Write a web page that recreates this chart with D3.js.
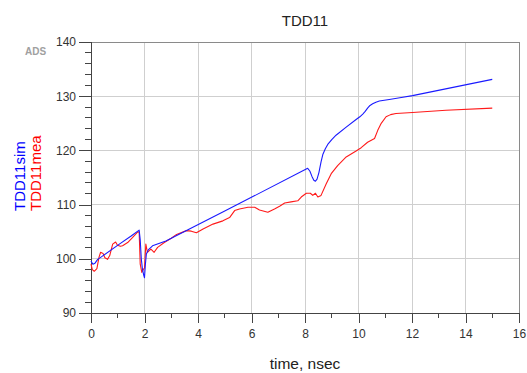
<!DOCTYPE html>
<html>
<head>
<meta charset="utf-8">
<script src="https://cdn.jsdelivr.net/npm/d3@7"></script>
<style>
  html, body { margin: 0; padding: 0; background: #fff; }
  svg { display: block; font-family: "Liberation Sans", Arial, sans-serif; }
</style>
</head>
<body>
<svg id="chart" width="527" height="373"></svg>
<script>
// ---- data ----
const chartTitle = "TDD11";
const xTitle = "time, nsec";
const simName = "TDD11sim";
const meaName = "TDD11mea";
const xTicks = [0, 2, 4, 6, 8, 10, 12, 14, 16];
const yTicks = [90, 100, 110, 120, 130, 140];

const simT = [0, 0.07, 0.15, 0.25, 0.4, 1.06, 1.5, 1.8, 1.84, 1.88, 1.92, 1.97, 2.0, 2.03, 2.07, 2.15, 2.3, 2.8, 5.0, 8.1, 8.18, 8.26, 8.33, 8.39, 8.45, 8.52, 8.6, 8.67, 8.76, 8.85, 9.0, 9.16, 9.54, 9.91, 10.05, 10.16, 10.25, 10.34, 10.43, 10.53, 10.65, 10.78, 11.15, 11.6, 12.02, 15.0];
const simV = [99.6, 99.0, 99.2, 99.9, 100.4, 102.7, 104.2, 105.3, 103.5, 100.0, 98.2, 97.0, 96.5, 98.8, 100.9, 101.7, 102.4, 103.3, 108.8, 116.7, 116.2, 115.2, 114.5, 114.3, 114.7, 115.9, 117.9, 119.3, 120.3, 121.1, 122.0, 122.8, 124.3, 125.7, 126.2, 126.7, 127.2, 127.8, 128.3, 128.6, 128.9, 129.1, 129.4, 129.75, 130.1, 133.1];

const meaT = [0, 0.05, 0.12, 0.22, 0.3, 0.36, 0.45, 0.52, 0.62, 0.7, 0.81, 0.92, 0.99, 1.1, 1.18, 1.37, 1.55, 1.74, 1.8, 1.84, 1.9, 1.95, 2.0, 2.05, 2.11, 2.24, 2.36, 2.49, 2.74, 3.0, 3.2, 3.57, 3.75, 3.94, 4.19, 4.56, 4.93, 5.18, 5.37, 5.55, 5.87, 6.12, 6.3, 6.61, 6.86, 7.05, 7.24, 7.48, 7.73, 7.86, 8.05, 8.2, 8.29, 8.39, 8.48, 8.6, 8.79, 8.98, 9.22, 9.54, 9.91, 10.1, 10.34, 10.6, 10.72, 10.85, 11.03, 11.2, 11.4, 12.02, 13.27, 15.0];
const meaV = [99.0, 98.0, 97.7, 98.2, 100.3, 101.2, 101.0, 100.2, 99.9, 100.6, 102.7, 103.1, 102.5, 102.3, 102.4, 103.0, 103.9, 104.9, 105.0, 99.0, 97.5, 98.0, 98.3, 102.7, 101.2, 101.8, 101.2, 102.1, 103.0, 103.8, 104.5, 105.2, 105.1, 104.8, 105.5, 106.4, 107.0, 107.6, 108.9, 109.2, 109.5, 109.5, 109.0, 108.6, 109.2, 109.7, 110.3, 110.5, 110.7, 111.4, 112.1, 112.1, 111.7, 112.1, 111.4, 111.7, 113.8, 115.7, 117.2, 118.8, 119.9, 120.5, 121.5, 122.2, 123.7, 125.0, 126.2, 126.6, 126.8, 127.0, 127.4, 127.8];

// ---- layout ----
const svg = d3.select("#chart");
const x = d3.scaleLinear().domain([0, 16]).range([91, 519]);
const y = d3.scaleLinear().domain([90, 140]).range([313, 42]);
const [x0, x1] = x.range();
const [y0, y1] = y.range();

// grid
svg.append("g").selectAll("line").data(xTicks.filter(d => d > 0 && d < 16)).join("line")
  .attr("x1", d => x(d)).attr("x2", d => x(d)).attr("y1", y1).attr("y2", y0)
  .attr("stroke", "#cfcfcf").attr("stroke-width", 1).attr("shape-rendering", "crispEdges");
svg.append("g").selectAll("line").data(yTicks.filter(d => d > 90 && d < 140)).join("line")
  .attr("x1", x0).attr("x2", x1).attr("y1", d => y(d)).attr("y2", d => y(d))
  .attr("stroke", "#cfcfcf").attr("stroke-width", 1).attr("shape-rendering", "crispEdges");

// frame top/right
svg.append("path")
  .attr("d", `M${x0},${y1}H${x1}V${y0}`)
  .attr("fill", "none").attr("stroke", "#8a8a8a").attr("stroke-width", 1).attr("shape-rendering", "crispEdges");

// axes
const xAxis = d3.axisBottom(x).tickValues(xTicks).tickSize(10).tickPadding(6).tickFormat(d3.format("d"));
const yAxis = d3.axisLeft(y).tickValues(yTicks).tickSize(12).tickPadding(3).tickFormat(d3.format("d"));
const gx = svg.append("g").attr("transform", `translate(0,${y0})`).call(xAxis);
const gy = svg.append("g").attr("transform", `translate(${x0},0)`).call(yAxis);
[gx, gy].forEach(g => {
  g.select(".domain").attr("stroke", "#444").attr("shape-rendering", "crispEdges");
  g.selectAll(".tick line").attr("stroke", "#444").attr("shape-rendering", "crispEdges");
  g.selectAll(".tick text").attr("fill", "#333").style("font-size", "12px")
    .style("font-family", "'Liberation Sans', Arial, sans-serif");
});
gx.select(".domain").attr("d", `M${x0},0H${x1}`);
gy.select(".domain").attr("d", `M0,${y0}V${y1}`);

// minor ticks
const xMinor = d3.range(1, 16, 2);
const yMinor = d3.range(90, 140, 2).filter(v => v % 10 !== 0);
svg.append("g").selectAll("line").data(xMinor).join("line")
  .attr("x1", d => x(d)).attr("x2", d => x(d)).attr("y1", y0).attr("y2", y0 + 5)
  .attr("stroke", "#444").attr("shape-rendering", "crispEdges");
svg.append("g").selectAll("line").data(yMinor).join("line")
  .attr("x1", x0 - 6).attr("x2", x0).attr("y1", d => y(d)).attr("y2", d => y(d))
  .attr("stroke", "#444").attr("shape-rendering", "crispEdges");

// lines
const sim = simT.map((t, i) => [t, simV[i]]);
const mea = meaT.map((t, i) => [t, meaV[i]]);
const line = d3.line().x(d => x(d[0])).y(d => y(d[1])).curve(d3.curveLinear);
svg.append("path").datum(mea).attr("d", line)
  .attr("fill", "none").attr("stroke", "#ff1a1a").attr("stroke-width", 1.1).attr("stroke-linejoin", "round");
svg.append("path").datum(sim).attr("d", line)
  .attr("fill", "none").attr("stroke", "#1a1aff").attr("stroke-width", 1.1).attr("stroke-linejoin", "round");

// texts
svg.append("text").attr("x", (x0 + x1) / 2).attr("y", 26).attr("text-anchor", "middle")
  .style("font-size", "15px").attr("fill", "#222").text(chartTitle);
svg.append("text").attr("x", (x0 + x1) / 2).attr("y", 369).attr("text-anchor", "middle")
  .style("font-size", "15.5px").attr("fill", "#222").text(xTitle);
svg.append("text").attr("transform", "translate(25,211) rotate(-90)")
  .style("font-size", "15px").attr("fill", "#0000ff").text(simName);
svg.append("text").attr("transform", "translate(40.5,211) rotate(-90)")
  .style("font-size", "15px").attr("fill", "#ff0000").text(meaName);
svg.append("text").attr("x", 35.5).attr("y", 55).attr("text-anchor", "middle")
  .style("font-size", "10px").style("font-weight", "bold").attr("fill", "#a0a0a0").text("ADS");
</script>
</body>
</html>
